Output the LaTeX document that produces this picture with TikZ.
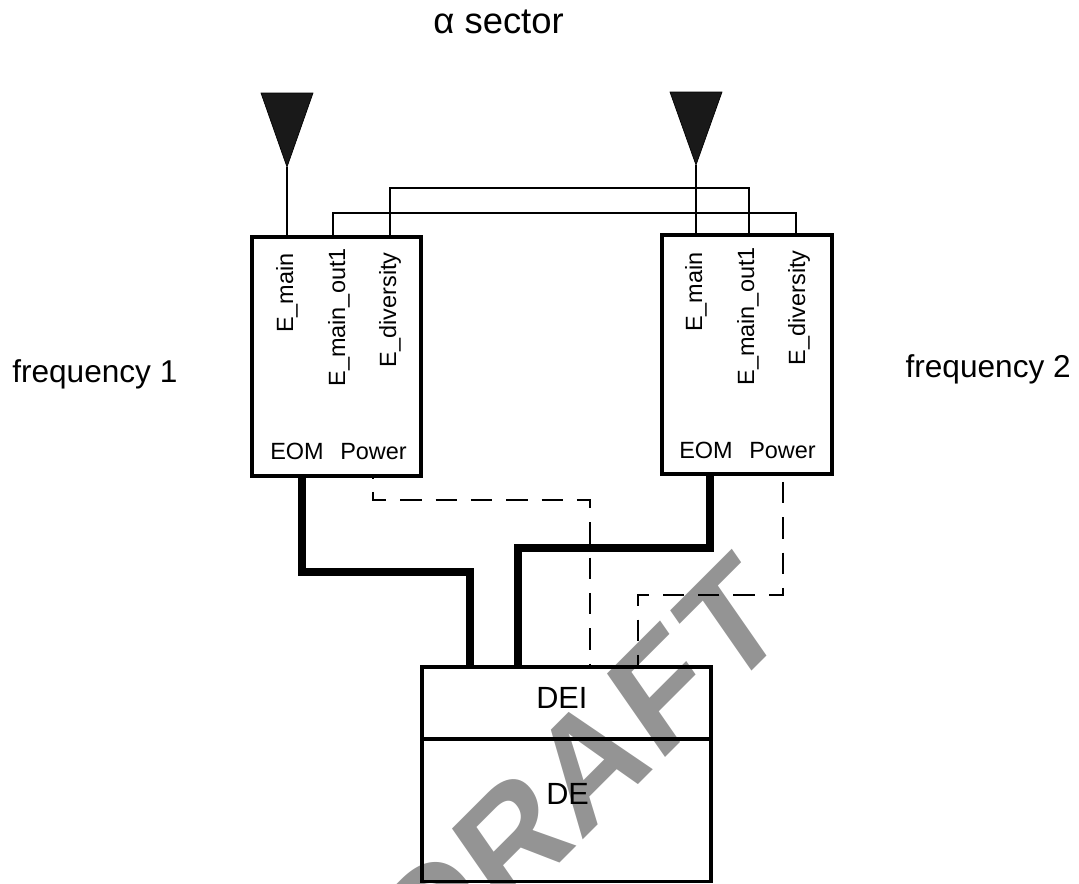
\documentclass[tikz,border=0pt]{standalone}
\usepackage{fontspec}
\setmainfont{Liberation Sans}
\newcommand{\pxfont}[1]{\fontsize{#1}{#1}\selectfont}
\tikzset{
  x=0.75pt,y=-0.75pt,
  box/.style={draw=black,line width=2.3pt,inner sep=0pt,fill=none},
  heading/.style={font=\pxfont{23.7pt},text=black,inner sep=0pt},
  titlelabel/.style={font=\pxfont{27.3pt},text=black,inner sep=0pt,anchor=base east},
  blocklabel/.style={font=\pxfont{23pt},text=black,inner sep=0pt,anchor=base west},
  portlabel/.style={font=\pxfont{17.6pt},text=black,inner sep=0pt,anchor=base west},
  vlabel/.style={font=\pxfont{17.6pt},text=black,inner sep=0pt,rotate=90,anchor=base east},
  feed/.style={draw=black,line width=2.2pt},
  link/.style={draw=black,line width=1.5pt},
  thickline/.style={draw=black,line width=6pt,line join=miter},
  dashline/.style={draw=black,line width=2.2pt,line join=miter},
  antenna/.style={fill=black!90,draw=black,line width=.5pt,line join=miter},
  watermark/.style={font=\bfseries\pxfont{111pt},text=black!42,inner sep=0pt,anchor=base,transform shape}
}
\begin{document}
\begin{tikzpicture}
\useasboundingbox (0,0) rectangle (1079,883);
\clip (0,0) rectangle (1079,883);
% watermark
\begin{scope}[shift={(609,814)},cm={.707,.707,-.57,.82,(0,0)}]
\node[watermark] (wm) at (0,0) {D\kern1.5pt R\kern1.5pt A\kern2.5pt F\kern6pt T};
\end{scope}
% boxes
\node[box,minimum width=126.75pt,minimum height=179.25pt] (boxL) at (336.5,356.5) {};
\node[box,minimum width=127.5pt,minimum height=179.25pt] (boxR) at (747,354.5) {};
\node[box,minimum width=216.75pt,minimum height=54pt] (dei) at (566.5,703) {};
\node[box,minimum width=216.75pt,minimum height=107pt] (de) at (566.5,810) {};
% titles
\node[heading,anchor=base west] (f1) at (12,382) {frequency 1};
\node[heading,anchor=base east] (f2) at (1071,377) {frequency 2};
\node[titlelabel] (title) at (564,33) {α sector};
\node[blocklabel] (deit) at (536,708) {DEI};
\node[blocklabel] (det) at (546,804) {DE};
% port labels
\node[vlabel] (a1) at (293,253) {E\_main};
\node[vlabel] (a2) at (345,248) {E\_main\_out1};
\node[vlabel] (a3) at (396,252) {E\_diversity};
\node[vlabel] (b1) at (702,252) {E\_main};
\node[vlabel] (b2) at (754,247) {E\_main\_out1};
\node[vlabel] (b3) at (805,250) {E\_diversity};
\node[portlabel] (a4) at (270,459) {EOM};
\node[portlabel] (a5) at (340,459) {Power};
\node[portlabel] (b4) at (679,458) {EOM};
\node[portlabel] (b5) at (749,458) {Power};
% antennas
\coordinate (tipL) at (287,167);
\coordinate (tipR) at (696,165);
\fill[antenna] (261,93) -- (313,93) -- (tipL) -- cycle;
\fill[antenna] (670,92) -- (722,92) -- (tipR) -- cycle;
\draw[feed] (tipL) -- (tipL |- boxL.north);
\draw[feed] (tipR) -- (tipR |- boxR.north);
% cross links
\coordinate (busA) at (0,213);
\coordinate (busB) at (0,188);
\coordinate (xA) at (333,0);
\coordinate (xB) at (390,0);
\coordinate (xC) at (749,0);
\coordinate (xD) at (796,0);
\draw[link] (xA |- boxL.north) -- (xA |- busA) -- (xD |- busA) -- (xD |- boxR.north);
\draw[link] (xB |- boxL.north) -- (xB |- busB) -- (xC |- busB) -- (xC |- boxR.north);
% thick lines
\coordinate (eomL) at (302,0);
\coordinate (deiA) at (470,0);
\coordinate (deiB) at (518,0);
\coordinate (eomR) at (710,0);
\coordinate (busC) at (0,572);
\coordinate (busD) at (0,548);
\draw[thickline] (eomL |- boxL.south) -- (eomL |- busC) -- (deiA |- busC) -- (deiA |- dei.north);
\draw[thickline] (deiB |- dei.north) -- (deiB |- busD) -- (eomR |- busD) -- (eomR |- boxR.south);
% dashed lines
\coordinate (pwL) at (373,0);
\coordinate (deiC) at (590,0);
\coordinate (pwR) at (783,0);
\coordinate (deiD) at (638,0);
\coordinate (busE) at (0,500);
\coordinate (busF) at (0,595);
\draw[dashline,dash pattern=on 16pt off 10.5pt,dash phase=15.75pt] (pwL |- boxL.south) -- (pwL |- busE) -- (deiC |- busE) -- (deiC |- dei.north);
\draw[dashline,dash pattern=on 16pt off 10.5pt,dash phase=21.75pt] (pwR |- boxR.south) -- (pwR |- busF) -- (deiD |- busF) -- (deiD |- dei.north);
\end{tikzpicture}
\end{document}
